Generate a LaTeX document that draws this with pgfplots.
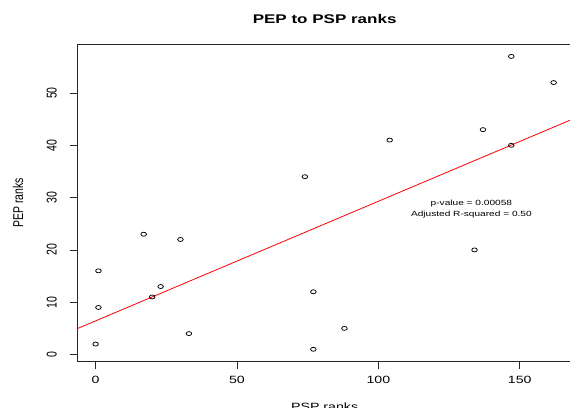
\documentclass[border=0pt]{standalone}
\usepackage{fontspec}
\setmainfont{Liberation Sans}
\usepackage{pgfplots}
\pgfplotsset{compat=1.18}
\begin{document}
\begin{tikzpicture}[x=1pt,y=1pt]
\path[use as bounding box] (0,0) rectangle (570,407);
\begin{axis}[
  at={(77.3pt,46pt)}, anchor=south west,
  scale only axis, width=494.7pt, height=316.3pt,
  xmin=-6.48, xmax=168.48, ymin=-1.24, ymax=59.24,
  axis line style={line width=0.8pt, black!85},
  tick style={line width=0.8pt, black!85},
  tick align=outside, major tick length=7.5pt,
  xtick pos=bottom, ytick pos=left,
  xtick={0,50,100,150}, ytick={0,10,20,30,40,50},
  /pgf/number format/assume math mode=true,
  ticklabel style={font=\fontsize{10.5}{12}\selectfont},
  xticklabel style={anchor=center, yshift=-11pt, xscale=1.35},
  yticklabel style={anchor=center, xshift=-18pt, rotate=90, yscale=1.35},
  title={PEP to PSP ranks},
  title style={font=\fontsize{12.6}{14}\selectfont\bfseries, at={(axis description cs:0.5,1)}, anchor=center, yshift=19.7pt, xscale=1.35},
  xlabel={PSP ranks},
  xlabel style={font=\fontsize{10.5}{12}\selectfont, at={(axis description cs:0.5,0)}, anchor=north, yshift=-38pt, xscale=1.35},
  ylabel={PEP ranks},
  ylabel style={font=\fontsize{10.5}{12}\selectfont, at={(axis description cs:-0.1199,0.5)}, anchor=center, rotate=0, yscale=1.35},
  clip=true,
]
\addplot[red, line width=0.8pt] coordinates {(-6.48,4.95) (168.48,44.96)};
\addplot[only marks, mark=o, mark size=2pt, mark options={xscale=1.4, line width=0.75pt, black}] coordinates {
(0,2) (1,9) (1,16) (17,23) (20,11) (23,13) (30,22) (33,4)
(74,34) (104,41) (137,43) (147,40) (147,57) (162,52)
(134,20) (77,12) (88,5) (77,1)
};
\node[align=center, font=\fontsize{7.5}{11}\selectfont, xscale=1.35] at (axis cs:132.9,27.75) {p-value = 0.00058\\Adjusted R-squared = 0.50};
\end{axis}
\end{tikzpicture}
\end{document}
